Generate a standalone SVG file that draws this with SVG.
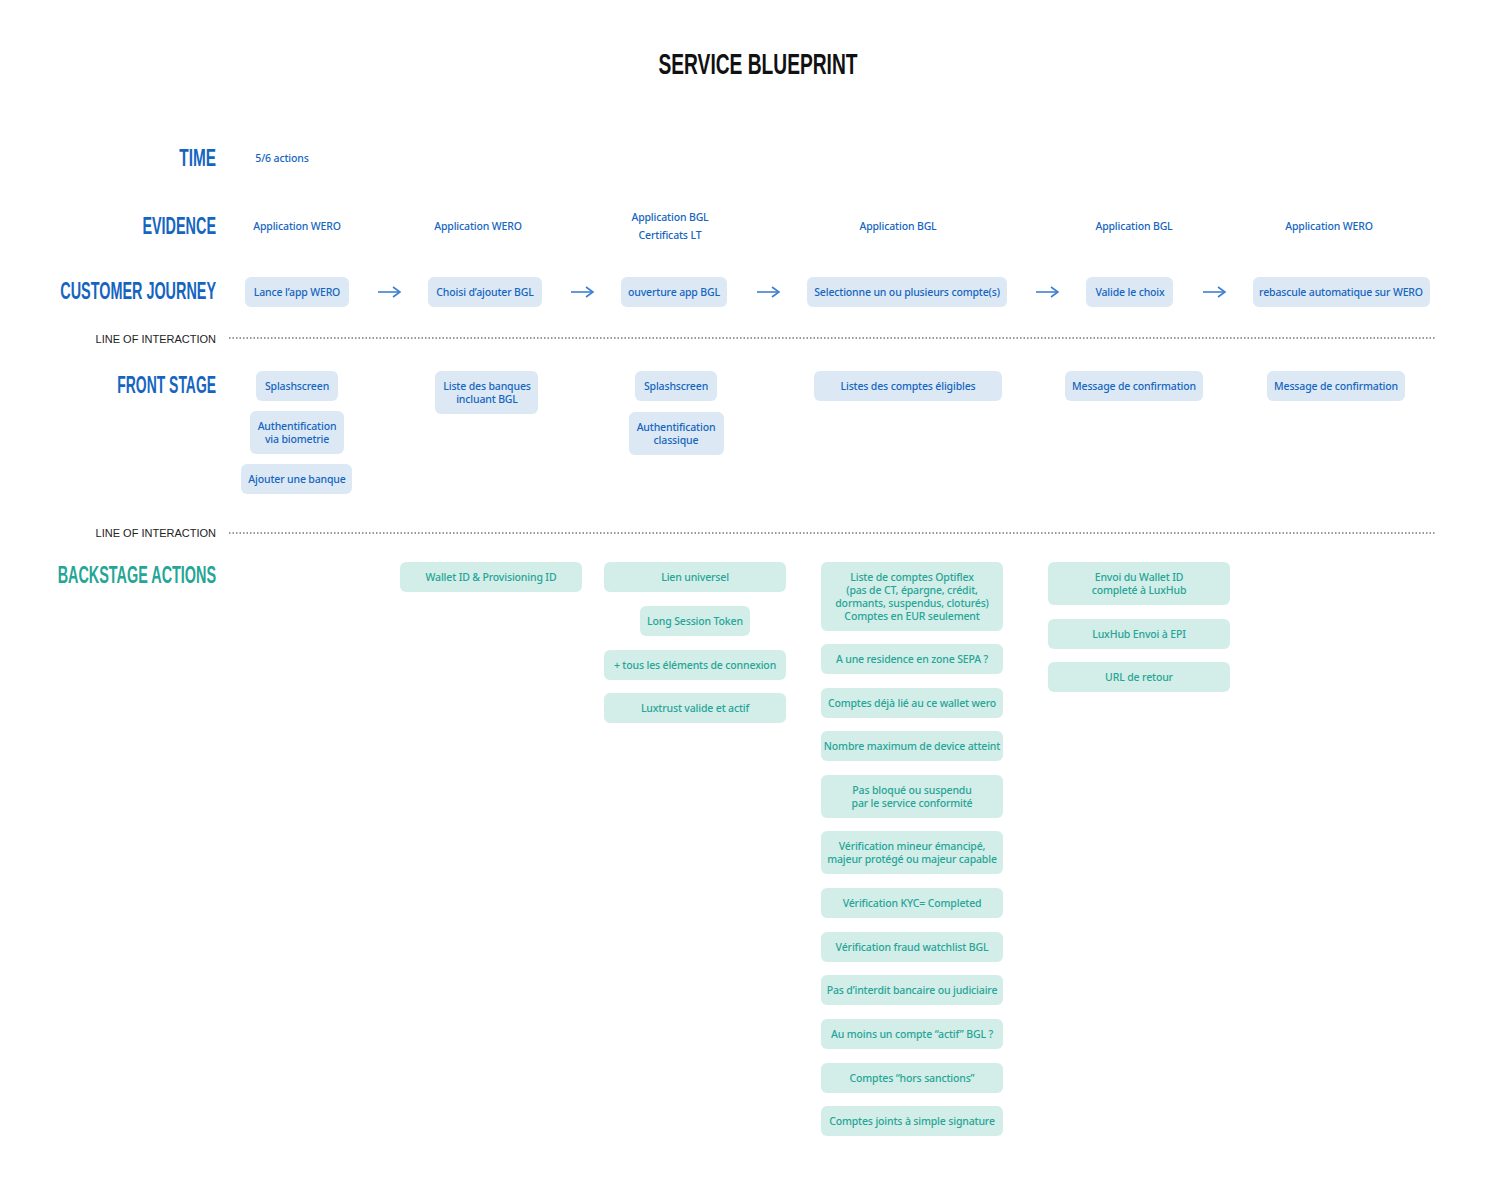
<svg xmlns="http://www.w3.org/2000/svg" width="1500" height="1193" viewBox="0 0 1500 1193">
<style>
.h{font-family:"Liberation Sans","DejaVu Sans",sans-serif;font-weight:bold;font-size:24px;fill:#1565c0;text-anchor:end}
.t{font-family:"Noto Sans","Liberation Sans",sans-serif;font-size:10.5px;font-weight:500;letter-spacing:-0.15px;text-anchor:middle}
.b{fill:#1565c0}
.g{fill:#25a596}
.bn{fill:#dce9f5}
.gn{fill:#d3ede9}
.li{font-family:"Liberation Sans",sans-serif;font-size:11px;fill:#222;text-anchor:end}
.dl{stroke:#333;stroke-width:1.2;stroke-dasharray:1.5 2}
.ar{stroke:#3f7fd0;stroke-width:1.6;fill:none}
</style>
<defs><marker id="ah" markerWidth="10" markerHeight="12" refX="8" refY="6" orient="auto" markerUnits="userSpaceOnUse"><path d="M1,1 L8,6 L1,11" fill="none" stroke="#3f7fd0" stroke-width="1.6"/></marker></defs>
<rect width="1500" height="1193" fill="#fff"/>
<text transform="translate(758,74) scale(0.64,1)" class="h" style="text-anchor:middle;font-size:30px;fill:#111">SERVICE BLUEPRINT</text>
<text transform="translate(216,166) scale(0.64,1)" class="h">TIME</text>
<text transform="translate(216,234) scale(0.6,1)" class="h">EVIDENCE</text>
<text transform="translate(216,299) scale(0.6,1)" class="h">CUSTOMER JOURNEY</text>
<text transform="translate(216,393) scale(0.58,1)" class="h">FRONT STAGE</text>
<text transform="translate(216,583) scale(0.6,1)" class="h" style="fill:#25a596">BACKSTAGE ACTIONS</text>
<text x="216" y="343" class="li">LINE OF INTERACTION</text>
<text x="216" y="537" class="li">LINE OF INTERACTION</text>
<line x1="229" y1="338" x2="1435" y2="338" class="dl"/>
<line x1="229" y1="533" x2="1435" y2="533" class="dl"/>
<g id="time"><text x="282" y="162" class="t b">5/6 actions</text></g>
<g id="evidence">
<text x="297" y="230" class="t b">Application WERO</text>
<text x="478" y="230" class="t b">Application WERO</text>
<text x="670" y="221" class="t b">Application BGL</text>
<text x="670" y="239" class="t b">Certificats LT</text>
<text x="898" y="230" class="t b">Application BGL</text>
<text x="1134" y="230" class="t b">Application BGL</text>
<text x="1329" y="230" class="t b">Application WERO</text>
</g>
<g id="cj1"><rect x="245" y="277" width="104" height="30" rx="6" class="bn"/><text x="297" y="296" class="t b">Lance l’app WERO</text></g>
<g id="cj2"><rect x="428" y="277" width="114" height="30" rx="6" class="bn"/><text x="485" y="296" class="t b">Choisi d’ajouter BGL</text></g>
<g id="cj3"><rect x="621" y="277" width="106" height="30" rx="6" class="bn"/><text x="674" y="296" class="t b">ouverture app BGL</text></g>
<g id="cj4"><rect x="807" y="277" width="200" height="30" rx="6" class="bn"/><text x="907" y="296" class="t b">Selectionne un ou plusieurs compte(s)</text></g>
<g id="cj5"><rect x="1086" y="277" width="87" height="30" rx="6" class="bn"/><text x="1130" y="296" class="t b">Valide le choix</text></g>
<g id="cj6"><rect x="1253" y="277" width="177" height="30" rx="6" class="bn"/><text x="1341" y="296" class="t b">rebascule automatique sur WERO</text></g>
<g id="connectors">
<line x1="378" y1="292" x2="400" y2="292" class="ar" marker-end="url(#ah)"/>
<line x1="571" y1="292" x2="593" y2="292" class="ar" marker-end="url(#ah)"/>
<line x1="757" y1="292" x2="779" y2="292" class="ar" marker-end="url(#ah)"/>
<line x1="1036" y1="292" x2="1058" y2="292" class="ar" marker-end="url(#ah)"/>
<line x1="1203" y1="292" x2="1225" y2="292" class="ar" marker-end="url(#ah)"/>
</g>
<g id="fs1"><rect x="256" y="371" width="82" height="30" rx="6" class="bn"/><text x="297" y="390" class="t b">Splashscreen</text></g>
<g id="fs2"><rect x="250" y="411" width="94" height="43" rx="6" class="bn"/><text x="297" y="430" class="t b">Authentification</text><text x="297" y="443" class="t b">via biometrie</text></g>
<g id="fs3"><rect x="241" y="464" width="111" height="30" rx="6" class="bn"/><text x="297" y="483" class="t b">Ajouter une banque</text></g>
<g id="fs4"><rect x="435" y="371" width="103" height="43" rx="6" class="bn"/><text x="487" y="390" class="t b">Liste des banques</text><text x="487" y="403" class="t b">incluant BGL</text></g>
<g id="fs5"><rect x="635" y="371" width="82" height="30" rx="6" class="bn"/><text x="676" y="390" class="t b">Splashscreen</text></g>
<g id="fs6"><rect x="629" y="412" width="95" height="43" rx="6" class="bn"/><text x="676" y="431" class="t b">Authentification</text><text x="676" y="444" class="t b">classique</text></g>
<g id="fs7"><rect x="814" y="371" width="188" height="30" rx="6" class="bn"/><text x="908" y="390" class="t b">Listes des comptes éligibles</text></g>
<g id="fs8"><rect x="1065" y="371" width="138" height="30" rx="6" class="bn"/><text x="1134" y="390" class="t b">Message de confirmation</text></g>
<g id="fs9"><rect x="1267" y="371" width="138" height="30" rx="6" class="bn"/><text x="1336" y="390" class="t b">Message de confirmation</text></g>
<g id="bs1"><rect x="400" y="562" width="182" height="30" rx="6" class="gn"/><text x="491" y="581" class="t g">Wallet ID &amp; Provisioning ID</text></g>
<g id="bs2"><rect x="604" y="562" width="182" height="30" rx="6" class="gn"/><text x="695" y="581" class="t g">Lien universel</text></g>
<g id="bs3"><rect x="640" y="606" width="110" height="30" rx="6" class="gn"/><text x="695" y="625" class="t g">Long Session Token</text></g>
<g id="bs4"><rect x="604" y="650" width="182" height="30" rx="6" class="gn"/><text x="695" y="669" class="t g">+ tous les éléments de connexion</text></g>
<g id="bs5"><rect x="604" y="693" width="182" height="30" rx="6" class="gn"/><text x="695" y="712" class="t g">Luxtrust valide et actif</text></g>
<g id="bs6"><rect x="821" y="562" width="182" height="69" rx="6" class="gn"/><text x="912" y="581" class="t g">Liste de comptes Optiflex</text><text x="912" y="594" class="t g">(pas de CT, épargne, crédit,</text><text x="912" y="607" class="t g">dormants, suspendus, cloturés)</text><text x="912" y="620" class="t g">Comptes en EUR seulement</text></g>
<g id="bs7"><rect x="821" y="644" width="182" height="30" rx="6" class="gn"/><text x="912" y="663" class="t g">A une residence en zone SEPA ?</text></g>
<g id="bs8"><rect x="821" y="688" width="182" height="30" rx="6" class="gn"/><text x="912" y="707" class="t g">Comptes déjà lié au ce wallet wero</text></g>
<g id="bs9"><rect x="821" y="731" width="182" height="30" rx="6" class="gn"/><text x="912" y="750" class="t g">Nombre maximum de device atteint</text></g>
<g id="bs10"><rect x="821" y="775" width="182" height="43" rx="6" class="gn"/><text x="912" y="794" class="t g">Pas bloqué ou suspendu</text><text x="912" y="807" class="t g">par le service conformité</text></g>
<g id="bs11"><rect x="821" y="831" width="182" height="43" rx="6" class="gn"/><text x="912" y="850" class="t g">Vérification mineur émancipé,</text><text x="912" y="863" class="t g">majeur protégé ou majeur capable</text></g>
<g id="bs12"><rect x="821" y="888" width="182" height="30" rx="6" class="gn"/><text x="912" y="907" class="t g">Vérification KYC= Completed</text></g>
<g id="bs13"><rect x="821" y="932" width="182" height="30" rx="6" class="gn"/><text x="912" y="951" class="t g">Vérification fraud watchlist BGL</text></g>
<g id="bs14"><rect x="821" y="975" width="182" height="30" rx="6" class="gn"/><text x="912" y="994" class="t g">Pas d’interdit bancaire ou judiciaire</text></g>
<g id="bs15"><rect x="821" y="1019" width="182" height="30" rx="6" class="gn"/><text x="912" y="1038" class="t g">Au moins un compte “actif” BGL ?</text></g>
<g id="bs16"><rect x="821" y="1063" width="182" height="30" rx="6" class="gn"/><text x="912" y="1082" class="t g">Comptes “hors sanctions”</text></g>
<g id="bs17"><rect x="821" y="1106" width="182" height="30" rx="6" class="gn"/><text x="912" y="1125" class="t g">Comptes joints à simple signature</text></g>
<g id="bs18"><rect x="1048" y="562" width="182" height="43" rx="6" class="gn"/><text x="1139" y="581" class="t g">Envoi du Wallet ID</text><text x="1139" y="594" class="t g">completé à LuxHub</text></g>
<g id="bs19"><rect x="1048" y="619" width="182" height="30" rx="6" class="gn"/><text x="1139" y="638" class="t g">LuxHub Envoi à EPI</text></g>
<g id="bs20"><rect x="1048" y="662" width="182" height="30" rx="6" class="gn"/><text x="1139" y="681" class="t g">URL de retour</text></g>
</svg>
